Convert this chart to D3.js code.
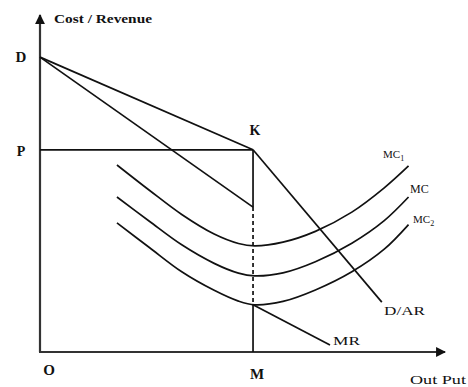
<!DOCTYPE html>
<html>
<head>
<meta charset="utf-8">
<script src="https://cdn.jsdelivr.net/npm/d3@7"></script>
<style>
  body { margin: 0; background: #fff; }
  svg text { font-family: "Liberation Serif", "Times New Roman", serif; fill: #111; }
</style>
</head>
<body>
<div id="chart"></div>
<script>
// monopoly cost / revenue diagram

// output points where the MC curves were read
var mcOutput = [19, 27, 35, 43, 49, 53, 60, 68, 77, 85, 91];
var mc1Values = [55.5, 48.0, 40.8, 35.0, 32.2, 31.5, 32.6, 35.8, 41.5, 48.7, 55.2];
var mcValues = [46.0, 38.8, 31.8, 26.3, 23.4, 22.6, 23.5, 26.8, 32.3, 39.0, 46.0];
var mc2Values = [38.3, 31.0, 23.8, 18.3, 15.1, 14.0, 15.0, 18.4, 23.8, 30.5, 37.8];

// key points (output, cost)
var pointD = [0, 87.5];
var priceP = 60;
var outputM = 52.6;
var dmEnd = 43;          // end of the line from D on the M vertical
var mrStart = 14.0;
var mrEnd = [71.6, 2.1];
var arEnd = [84.4, 14.8];

var width = 468, height = 387;
var x = d3.scaleLinear().domain([0, 100]).range([40, 445]);
var y = d3.scaleLinear().domain([0, 100]).range([352, 15]);

var svg = d3.select("#chart")
    .append("svg")
    .attr("width", width)
    .attr("height", height);

var defs = svg.append("defs");
defs.append("marker")
    .attr("id", "arrow")
    .attr("viewBox", "0 0 10 10")
    .attr("refX", 9)
    .attr("refY", 5)
    .attr("markerWidth", 4.5)
    .attr("markerHeight", 4.5)
    .attr("markerUnits", "strokeWidth")
    .attr("orient", "auto")
    .append("path")
    .attr("d", "M0,0 L10,5 L0,10 z")
    .attr("fill", "#111");

// axes
svg.append("line")
    .attr("x1", x(0)).attr("y1", y(0))
    .attr("x2", x(0)).attr("y2", y(100))
    .attr("stroke", "#333").attr("stroke-width", 2.2)
    .attr("marker-end", "url(#arrow)");
svg.append("line")
    .attr("x1", x(0) - 1).attr("y1", y(0))
    .attr("x2", x(100)).attr("y2", y(0))
    .attr("stroke", "#333").attr("stroke-width", 2.2)
    .attr("marker-end", "url(#arrow)");

var line = d3.line()
    .x(function(d) { return x(d[0]); })
    .y(function(d) { return y(d[1]); });

function seg(pts, dash) {
    svg.append("path")
        .datum(pts)
        .attr("fill", "none")
        .attr("stroke", "#111")
        .attr("stroke-width", 1.7)
        .attr("stroke-dasharray", dash || null)
        .attr("d", line);
}

// P horizontal, D lines, AR and MR
seg([[0, priceP], [outputM, priceP]]);
seg([pointD, [outputM, priceP]]);
seg([pointD, [outputM, dmEnd]]);
seg([[outputM, priceP], arEnd]);
seg([[outputM, mrStart], mrEnd]);

// M vertical: solid, dashed, solid
seg([[outputM, priceP], [outputM, dmEnd]]);
seg([[outputM, dmEnd], [outputM, mrStart]], "4,3");
seg([[outputM, mrStart], [outputM, 0]]);

// MC curves
var curve = d3.line()
    .x(function(d) { return x(d[0]); })
    .y(function(d) { return y(d[1]); })
    .curve(d3.curveCatmullRom);

[mc1Values, mcValues, mc2Values].forEach(function(vals) {
    svg.append("path")
        .datum(d3.zip(mcOutput, vals))
        .attr("fill", "none")
        .attr("stroke", "#111")
        .attr("stroke-width", 1.7)
        .attr("d", curve);
});

// labels
function label(txt, px, py, size, weight, anchor) {
    return svg.append("text")
        .attr("x", px).attr("y", py)
        .attr("font-size", size)
        .attr("font-weight", weight || "normal")
        .attr("text-anchor", anchor || "start")
        .text(txt);
}

label("Cost / Revenue", 54, 23, 12, "bold").attr("textLength", 98).attr("lengthAdjust", "spacingAndGlyphs");
label("D", 21, 62, 15, "bold", "middle");
label("P", 21, 156, 14, "bold", "middle");
label("K", x(outputM) + 2, 135, 14, "bold", "middle");
label("O", 49, 375, 15, "bold", "middle");
label("M", x(outputM) + 4, 379, 15, "bold", "middle");
label("Out Put", 410, 384, 13).attr("textLength", 56).attr("lengthAdjust", "spacingAndGlyphs");
label("D/AR", 384, 315, 12).attr("textLength", 41).attr("lengthAdjust", "spacingAndGlyphs");
label("MR", 333, 345, 12).attr("textLength", 27).attr("lengthAdjust", "spacingAndGlyphs");

var t1 = label("MC", 383, 158, 11);
t1.append("tspan").attr("font-size", 8).attr("dy", 3).text("1");
label("MC", 410, 193, 12);
var t2 = label("MC", 413, 223, 11);
t2.append("tspan").attr("font-size", 8).attr("dy", 3).text("2");
</script>
</body>
</html>
